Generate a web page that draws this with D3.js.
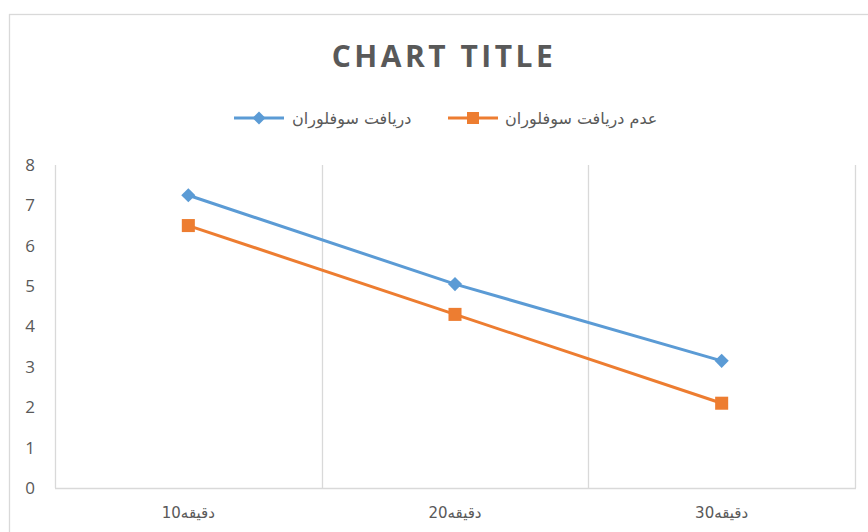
<!DOCTYPE html>
<html>
<head>
<meta charset="utf-8">
<script src="https://cdn.jsdelivr.net/npm/d3@7"></script>
<style>
  body { margin: 0; background: #fff; }
  svg { display: block; }
</style>
</head>
<body>
<div id="chart"></div>
<script>
// data
var categories = ["دقیقه10", "دقیقه20", "دقیقه30"];
var seriesNames = ["دریافت سوفلوران", "عدم دریافت سوفلوران"];
var received = [7.25, 5.05, 3.15];
var notReceived = [6.5, 4.3, 2.1];
var yTicks = [0, 1, 2, 3, 4, 5, 6, 7, 8];

var W = 868, H = 532;
var plot = {left: 55, right: 855, top: 165, bottom: 488};
var colors = ["#5B9BD5", "#ED7D31"];
var textColor = "#595959";
var gridColor = "#d9d9d9";

var svg = d3.select("#chart").append("svg")
    .attr("width", W)
    .attr("height", H);

// chart border
svg.append("rect")
    .attr("x", 9.5).attr("y", 14.5)
    .attr("width", W).attr("height", H)
    .attr("fill", "#fff")
    .attr("stroke", gridColor)
    .attr("stroke-width", 1.3);

var x = d3.scaleBand()
    .domain(categories)
    .range([plot.left, plot.right])
    .padding(0);

var y = d3.scaleLinear()
    .domain([0, 8])
    .range([plot.bottom, plot.top]);

// vertical gridlines between categories
var gridX = categories.map(function(d) { return x(d); }).concat([plot.right]);
svg.selectAll(".grid")
    .data(gridX)
    .enter().append("line")
    .attr("class", "grid")
    .attr("x1", function(d) { return Math.round(d) + 0.5; })
    .attr("x2", function(d) { return Math.round(d) + 0.5; })
    .attr("y1", plot.top)
    .attr("y2", plot.bottom)
    .attr("stroke", gridColor)
    .attr("stroke-width", 1.3);

// bottom axis line
svg.append("line")
    .attr("x1", plot.left).attr("x2", plot.right + 1)
    .attr("y1", plot.bottom + 0.5).attr("y2", plot.bottom + 0.5)
    .attr("stroke", gridColor)
    .attr("stroke-width", 1.3);

// y tick labels
svg.selectAll(".ylab")
    .data(yTicks)
    .enter().append("text")
    .attr("class", "ylab")
    .attr("x", 30)
    .attr("y", function(d) { return y(d); })
    .attr("dy", "0.35em")
    .attr("text-anchor", "middle")
    .attr("fill", textColor)
    .style("font-family", "'Open Sans', sans-serif")
    .style("font-size", "17px")
    .text(function(d) { return d; });

// x labels
svg.selectAll(".xlab")
    .data(categories)
    .enter().append("text")
    .attr("class", "xlab")
    .attr("x", function(d) { return x(d) + x.bandwidth() / 2; })
    .attr("y", 518)
    .attr("text-anchor", "middle")
    .attr("fill", textColor)
    .style("font-family", "'DejaVu Sans', sans-serif")
    .style("font-size", "15px")
    .style("letter-spacing", "2px")
    .text(function(d) { return d; });

// title
svg.append("text")
    .attr("x", 444)
    .attr("y", 67)
    .attr("text-anchor", "middle")
    .attr("fill", textColor)
    .style("font-family", "'Open Sans', sans-serif")
    .style("font-weight", "bold")
    .style("font-size", "30px")
    .style("letter-spacing", "3.5px")
    .text("CHART TITLE");

var series = [
    {name: seriesNames[0], values: received, color: colors[0], rotate: 45, size: 100},
    {name: seriesNames[1], values: notReceived, color: colors[1], rotate: 0, size: 170}
];

var line = d3.line()
    .x(function(d, i) { return x(categories[i]) + x.bandwidth() / 2; })
    .y(function(d) { return y(d); });

series.forEach(function(s) {
    svg.append("path")
        .datum(s.values)
        .attr("d", line)
        .attr("fill", "none")
        .attr("stroke", s.color)
        .attr("stroke-width", 3)
        .attr("stroke-linejoin", "round");

    svg.selectAll(null)
        .data(s.values)
        .enter().append("path")
        .attr("transform", function(d, i) {
            return "translate(" + (x(categories[i]) + x.bandwidth() / 2) + "," + y(d) + ") rotate(" + s.rotate + ")";
        })
        .attr("d", d3.symbol().type(d3.symbolSquare).size(s.size))
        .attr("fill", s.color);
});

// legend
var legendY = 118;
var legendPos = [{lineX: 234, textX: 292}, {lineX: 448, textX: 505}];
series.forEach(function(s, i) {
    var p = legendPos[i];
    svg.append("line")
        .attr("x1", p.lineX).attr("x2", p.lineX + 50)
        .attr("y1", legendY).attr("y2", legendY)
        .attr("stroke", s.color)
        .attr("stroke-width", 3);
    svg.append("path")
        .attr("transform", "translate(" + (p.lineX + 25) + "," + legendY + ") rotate(" + s.rotate + ")")
        .attr("d", d3.symbol().type(d3.symbolSquare).size(s.size * 0.85))
        .attr("fill", s.color);
    svg.append("text")
        .attr("x", p.textX)
        .attr("y", legendY)
        .attr("dy", "0.35em")
        .attr("text-anchor", "start")
        .attr("fill", textColor)
        .style("font-family", "'DejaVu Sans', sans-serif")
        .style("font-size", "16px")
        .text(s.name);
});
</script>
</body>
</html>
